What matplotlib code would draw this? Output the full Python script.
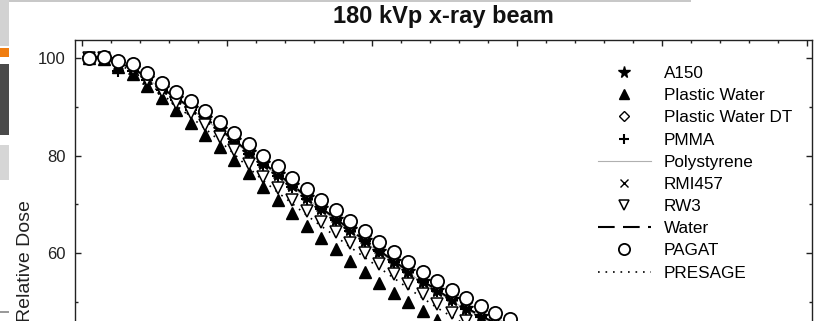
import matplotlib
matplotlib.use("Agg")
import matplotlib.pyplot as plt
from matplotlib.patches import Rectangle
from matplotlib.ticker import MultipleLocator

plt.rcParams["font.family"] = ["Liberation Sans", "DejaVu Sans"]

# depth (cm) and relative dose per material
depth = [0.125, 0.375, 0.625, 0.875, 1.125, 1.375, 1.625, 1.875, 2.125, 2.375,
         2.625, 2.875, 3.125, 3.375, 3.625, 3.875, 4.125, 4.375, 4.625, 4.875,
         5.125, 5.375, 5.625, 5.875, 6.125, 6.375, 6.625, 6.875, 7.125, 7.375]

a150 = [100.0, 100.0, 98.9, 97.9, 95.9, 93.8, 91.8, 89.8, 87.7, 85.4,
        83.1, 80.8, 78.5, 76.2, 74.0, 71.6, 69.3, 67.1, 64.9, 62.7,
        60.6, 58.5, 56.4, 54.4, 52.5, 50.6, 48.9, 47.3, 45.8, 44.4]
plastic_water = [100.0, 99.7, 98.1, 96.6, 94.2, 91.7, 89.2, 86.7, 84.2, 81.7,
                 79.1, 76.4, 73.6, 70.9, 68.3, 65.7, 63.2, 60.9, 58.4, 56.2,
                 54.0, 52.0, 50.1, 48.2, 46.4, 44.7, 43.1, 41.6, 40.3, 39.1]
plastic_water_dt = [100.1, 100.1, 99.0, 98.2, 96.2, 94.2, 92.3, 90.3, 88.3, 86.1,
                    83.8, 81.5, 79.2, 77.0, 74.7, 72.3, 70.1, 68.0, 65.8, 63.7,
                    61.6, 59.5, 57.5, 55.5, 53.6, 51.8, 50.1, 48.5, 47.1, 45.8]
pmma = [99.8, 99.7, 97.2, 97.3, 95.5, 93.4, 91.3, 89.3, 87.2, 85.0,
        82.7, 80.4, 78.1, 75.8, 73.6, 71.2, 69.0, 66.8, 64.6, 62.5,
        60.4, 58.3, 56.2, 54.2, 52.3, 50.4, 48.7, 47.1, 45.6, 44.2]
polystyrene = [100.0, 99.9, 98.8, 97.8, 95.7, 93.6, 91.6, 89.5, 87.4, 85.1,
               82.8, 80.5, 78.2, 75.9, 73.6, 71.3, 69.0, 66.8, 64.6, 62.4,
               60.3, 58.2, 56.1, 54.1, 52.2, 50.3, 48.6, 47.0, 45.5, 44.1]
rmi457 = [100.0, 99.9, 98.6, 97.7, 95.7, 93.7, 91.8, 89.8, 87.8, 85.6,
          83.3, 81.0, 78.7, 76.5, 74.2, 71.9, 69.6, 67.5, 65.3, 63.2,
          61.1, 59.0, 57.0, 55.0, 53.1, 51.3, 49.6, 48.0, 46.6, 45.3]
rw3 = [100.0, 100.0, 98.7, 97.6, 95.4, 93.1, 90.8, 88.6, 86.3, 83.8,
       81.1, 78.3, 75.7, 73.3, 71.0, 68.6, 66.4, 64.3, 62.1, 60.0,
       57.9, 55.8, 53.7, 51.7, 49.7, 47.9, 46.2, 44.6, 43.2, 41.9]
water = [100.0, 100.0, 98.9, 97.9, 95.9, 93.8, 91.8, 89.8, 87.7, 85.4,
         83.1, 80.8, 78.5, 76.2, 74.0, 71.6, 69.3, 67.1, 64.9, 62.7,
         60.6, 58.5, 56.4, 54.4, 52.5, 50.6, 48.9, 47.3, 45.8, 44.4]
pagat = [100.0, 100.2, 99.3, 98.6, 96.8, 94.9, 93.0, 91.1, 89.1, 86.9,
         84.6, 82.3, 80.0, 77.8, 75.5, 73.1, 70.9, 68.8, 66.6, 64.5,
         62.4, 60.3, 58.3, 56.3, 54.4, 52.6, 50.9, 49.3, 47.9, 46.6]
presage = [100.0, 99.9, 98.5, 97.3, 95.0, 92.6, 90.2, 87.9, 85.5, 83.0,
           80.3, 77.5, 74.9, 72.5, 70.2, 67.8, 65.6, 63.5, 61.3, 59.2,
           57.1, 55.0, 52.9, 50.9, 48.9, 47.1, 45.4, 43.8, 42.4, 41.1]

W, H = 821, 321
fig = plt.figure(figsize=(W / 100, H / 100), dpi=100)


def px_rect(x, y, w, h, color):
    # rectangle given in pixel units from the top-left corner
    fig.add_artist(Rectangle((x / W, 1 - (y + h) / H), w / W, h / H,
                             transform=fig.transFigure, color=color, lw=0))


# bits of neighbouring page layout at the left edge
px_rect(0, 0, 8.5, 46, "#d2d2d2")
px_rect(0, 48, 8.5, 9, "#f07d10")
px_rect(0, 64, 8.5, 71, "#4a4a4a")
px_rect(0, 145, 8.5, 35, "#d6d6d6")
px_rect(0, 311, 8.5, 1.5, "#9a9a9a")
px_rect(9, 0, 682, 2, "#c8c8c8")

ax = fig.add_axes([75 / W, 0, 737 / W, 281 / H])

# lines sit underneath the marker series
line_z = 1.5
ax.plot(depth, a150, ls="none", marker="*", ms=10, color="k", label="A150")
ax.plot(depth, plastic_water, ls="none", marker="^", ms=8.5, color="k",
        label="Plastic Water")
ax.plot(depth, plastic_water_dt, ls="none", marker="D", ms=6.5, mfc="white",
        mec="k", mew=1.0, label="Plastic Water DT")
ax.plot(depth, pmma, ls="none", marker="+", ms=8, mew=1.5, color="k",
        label="PMMA")
ax.plot(depth, polystyrene, color="#b0b0b0", lw=0.8, zorder=line_z,
        label="Polystyrene")
ax.plot(depth, rmi457, ls="none", marker="x", ms=7.5, mew=1.0, color="k",
        label="RMI457")
ax.plot(depth, rw3, ls="none", marker="v", ms=9, mfc="white", mec="k",
        mew=1.1, label="RW3")
ax.plot(depth, water, color="k", lw=1.5, dashes=(8, 4), zorder=line_z,
        label="Water")
ax.plot(depth, pagat, ls="none", marker="o", ms=9.5, mfc="white", mec="k",
        mew=1.3, label="PAGAT")
ax.plot(depth, presage, color="k", lw=1.2, dashes=(1, 3.5), zorder=line_z,
        label="PRESAGE")

ax.set_xlim(-0.12, 12.59)
ax.set_ylim(46.2, 103.6)
ax.xaxis.set_major_locator(MultipleLocator(2.5))
ax.xaxis.set_minor_locator(MultipleLocator(0.5))
ax.yaxis.set_major_locator(MultipleLocator(20))
ax.yaxis.set_minor_locator(MultipleLocator(10))

ax.spines["bottom"].set_visible(False)
for s in ("top", "left", "right"):
    ax.spines[s].set_linewidth(1.0)
    ax.spines[s].set_color("#222222")

ax.tick_params(axis="x", which="both", direction="in", top=True, bottom=False,
               labeltop=False, labelbottom=False, color="#222222")
ax.tick_params(axis="y", which="both", direction="in", left=True, right=True,
               labelsize=12, labelcolor="#222222", color="#222222", pad=7)
ax.tick_params(which="major", length=4.5, width=1.0)
ax.tick_params(which="minor", length=2.5, width=1.0)

fig.text(443 / W, 1 - 17 / H, "180 kVp x-ray beam", fontsize=17,
         fontweight="bold", ha="center", va="center", color="#111111")
fig.text(25 / W, 1 - 261 / H, "Relative Dose", fontsize=14, rotation=90,
         ha="center", va="center", color="#222222")

leg = ax.legend(loc="upper left", bbox_to_anchor=(598 / W, 1 - 66 / H),
                bbox_transform=fig.transFigure, frameon=False, fontsize=12.3,
                handlelength=3.1, handletextpad=0.75, labelspacing=0.42,
                borderpad=0, borderaxespad=0, numpoints=1, markerscale=0.85)

fig.savefig("out.png", dpi=100)
